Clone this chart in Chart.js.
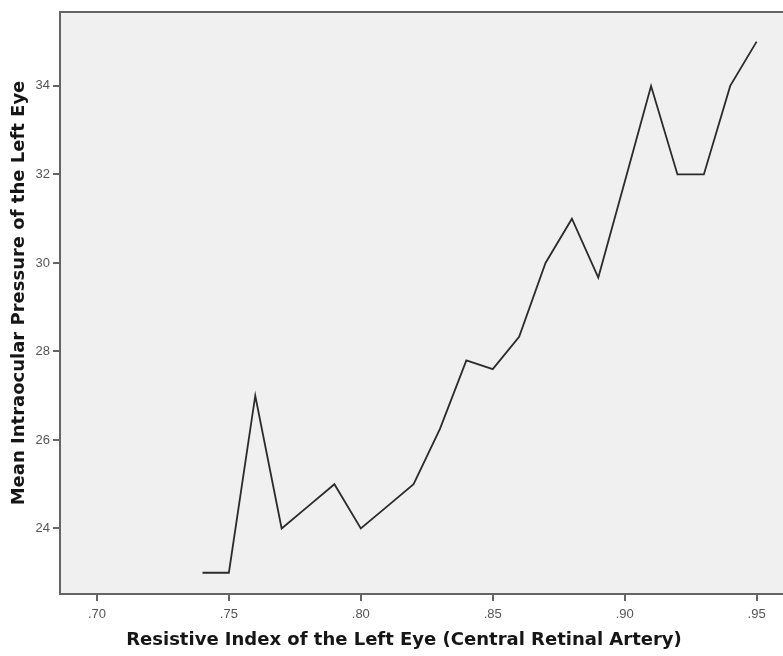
<!DOCTYPE html>
<html>
<head>
<meta charset="utf-8">
<script src="https://cdn.jsdelivr.net/npm/chart.js@4"></script>
<style>
  html, body { margin: 0; padding: 0; background: #ffffff; overflow: hidden; }
  #wrap { width: 783px; height: 656px; position: relative; }
</style>
</head>
<body>
<div id="wrap"><canvas id="c" width="783" height="656"></canvas></div>
<script>
// Resistive index (central retinal artery) vs mean intraocular pressure, left eye
const resistiveIndex = [0.74, 0.75, 0.76, 0.77, 0.78, 0.79, 0.80, 0.81, 0.82, 0.83, 0.84,
                        0.85, 0.86, 0.87, 0.88, 0.89, 0.90, 0.91, 0.92, 0.93, 0.94, 0.95];
const meanPressure   = [23, 23, 27, 24, 24.5, 25, 24, 24.5, 25, 26.25, 27.8,
                        27.6, 28.33, 30, 31, 29.67, 31.83, 34, 32, 32, 34, 35];
const xTickValues = [0.70, 0.75, 0.80, 0.85, 0.90, 0.95];
const yTickValues = [24, 26, 28, 30, 32, 34];

const xTitle = 'Resistive Index of the Left Eye (Central Retinal Artery)';
const yTitle = 'Mean Intraocular Pressure of the Left Eye';

const points = resistiveIndex.map((x, i) => ({ x: x, y: meanPressure[i] }));

const frameColor = '#656565';
const tickFont = { family: '"Liberation Sans", Arial, sans-serif', size: 13 };

// Plot background, top frame line and the two axis titles
const framePlugin = {
  id: 'frame',
  beforeDraw(chart) {
    const { ctx, chartArea: a } = chart;
    ctx.save();
    ctx.fillStyle = '#f0f0f0';
    ctx.fillRect(a.left, a.top, a.right - a.left, a.bottom - a.top);
    ctx.restore();
  },
  afterDraw(chart) {
    const { ctx, chartArea: a } = chart;
    ctx.save();
    ctx.strokeStyle = frameColor;
    ctx.lineWidth = 2;
    ctx.beginPath();
    ctx.moveTo(a.left - 1, a.top);
    ctx.lineTo(a.right, a.top);
    ctx.stroke();

    ctx.fillStyle = '#161616';
    ctx.font = 'bold 18px "DejaVu Sans", Verdana, sans-serif';
    ctx.textAlign = 'center';
    ctx.textBaseline = 'middle';
    ctx.fillText(xTitle, 404, 640);
    ctx.translate(19, 293);
    ctx.rotate(-Math.PI / 2);
    ctx.fillText(yTitle, 0, 0);
    ctx.restore();
  }
};

new Chart(document.getElementById('c'), {
  type: 'line',
  data: {
    datasets: [{
      data: points,
      borderColor: '#2b2b2b',
      borderWidth: 1.8,
      pointRadius: 0,
      tension: 0,
      fill: false
    }]
  },
  options: {
    responsive: false,
    animation: false,
    layout: { padding: { top: 12, left: 0, right: 0, bottom: 0 } },
    plugins: { legend: { display: false }, tooltip: { enabled: false } },
    scales: {
      x: {
        type: 'linear',
        position: 'bottom',
        min: 0.686,
        max: 0.96,
        afterBuildTicks(scale) { scale.ticks = xTickValues.map(v => ({ value: v })); },
        afterFit(scale) { scale.height = 62; },
        grid: { drawOnChartArea: false, drawTicks: true, tickLength: 7, color: frameColor, lineWidth: 2 },
        border: { display: true, color: frameColor, width: 2 },
        ticks: {
          padding: 6,
          maxRotation: 0,
          color: '#555555',
          font: tickFont,
          callback: (v) => Number(v).toFixed(2).replace(/^0/, '')
        }
      },
      y: {
        type: 'linear',
        min: 22.52,
        max: 35.67,
        afterBuildTicks(scale) { scale.ticks = yTickValues.map(v => ({ value: v })); },
        afterFit(scale) { scale.width = 60; },
        grid: { drawOnChartArea: false, drawTicks: true, tickLength: 7, color: frameColor, lineWidth: 2 },
        border: { display: true, color: frameColor, width: 2 },
        ticks: {
          padding: 3,
          color: '#555555',
          font: tickFont,
          callback: (v) => String(v)
        }
      }
    }
  },
  plugins: [framePlugin]
});
</script>
</body>
</html>
